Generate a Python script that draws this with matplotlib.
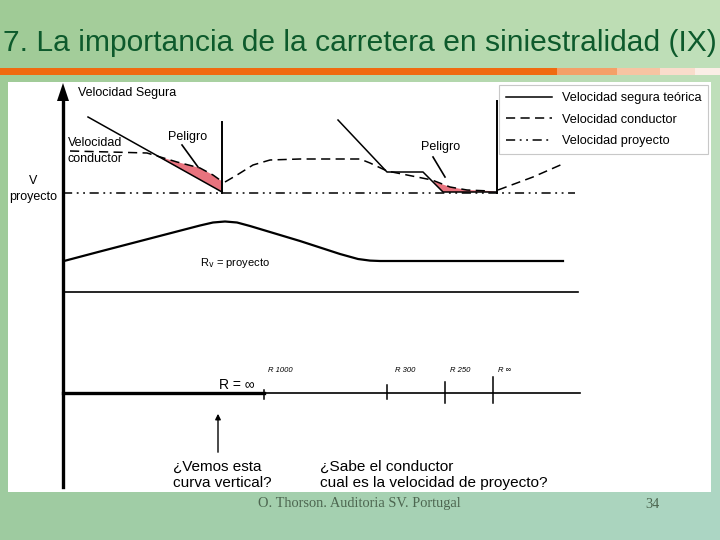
import numpy as np
import matplotlib.pyplot as plt
from matplotlib.patches import Rectangle, Polygon

plt.rcParams['font.family'] = ['Liberation Sans', 'DejaVu Sans']

# slide texts
title = "7. La importancia de la carretera en siniestralidad (IX)"
footer = "O. Thorson. Auditoria SV. Portugal"
page = "34"
legend_labels = ["Velocidad segura teórica", "Velocidad conductor", "Velocidad proyecto"]

# diagram vertices (slide pixels, y grows downward)
# velocidad segura teorica (solid)
safe1_x = [88, 222]
safe1_y = [117, 192]
safe2_x = [338, 387, 423, 443, 497]
safe2_y = [120, 172, 172, 192, 192]
wall_x = [222, 497]          # vertical jumps of safe speed
wall_top = [122, 101]
wall_bot = [193, 193]

# velocidad conductor (dashed)
drv1_x = [70, 110, 147, 157, 177, 200, 213, 220]
drv1_y = [151, 152, 153, 156, 162, 168, 175, 180]
drv2_x = [225, 237, 253, 270, 300, 360, 370, 387, 407, 432, 450, 467, 490]
drv2_y = [182, 175, 165, 160, 159, 159, 163, 171, 175, 180, 187, 190, 191]
drv3_x = [498, 533, 565]
drv3_y = [190, 177, 163]

# velocidad proyecto (dash dot dot)
proj_x = [63, 575]
proj_y = [193, 193]

# danger zones (between driver speed and safe speed)
pel1_x = [157, 177, 200, 213, 220, 222, 222]
pel1_y = [156, 162, 168, 175, 180, 181, 192]
pel2_x = [433, 450, 467, 490, 497, 443]
pel2_y = [181, 187, 190, 191, 192, 192]

# vertical profile (R_v = proyecto)
prof_x = [64, 100, 150, 200, 213, 225, 237, 250, 300, 340, 358, 370, 380, 563]
prof_y = [261, 251.5, 238.5, 225.5, 222.5, 221.5, 222.5, 226, 241, 254, 259, 260.6, 261, 261]
base_x = [63, 578]
base_y = [292, 292]

# plan alignment
plan_thick_x = [63, 264]
plan_thin_x = [264, 580]
plan_y = 393
tick_x = [264, 387, 445, 493]
tick_top = [390, 385, 382, 377]
tick_bot = [399, 399, 403, 403]
radius_labels = ["R 1000", "R 300", "R 250", "R \u221e"]
radius_lx = [268, 395, 450, 498]

fig = plt.figure(figsize=(7.2, 5.4), dpi=100)
ax = fig.add_axes([0, 0, 1, 1])
ax.set_xlim(0, 720)
ax.set_ylim(540, 0)
ax.axis('off')

# green slide background (smooth gradient)
c_tl = np.array([160, 203, 150]) / 255
c_tr = np.array([195, 225, 185]) / 255
c_bl = np.array([158, 203, 160]) / 255
c_br = np.array([172, 214, 196]) / 255
u = np.linspace(0, 1, 72)[None, :, None]
v = np.linspace(0, 1, 54)[:, None, None]
bg = (1 - v) * ((1 - u) * c_tl + u * c_tr) + v * ((1 - u) * c_bl + u * c_br)
ax.imshow(bg, extent=(0, 720, 540, 0), aspect='auto', zorder=0)

# title and orange bar
ax.text(3, 43, title, fontsize=21.6, color='#0d5a2c', va='center', ha='left')
bar_cols = ['#f06a10', '#f4a068', '#f7c4a2', '#f9dccb', '#fbeee6']
bar_edges = [0, 557, 617, 660, 695, 720]
for i, c in enumerate(bar_cols):
    ax.add_patch(Rectangle((bar_edges[i], 68), bar_edges[i + 1] - bar_edges[i], 7,
                           fc=c, ec='none', zorder=1))

# white panel
ax.add_patch(Rectangle((8, 82), 703, 410, fc='white', ec='none', zorder=1))

lw = 1.1
# danger fills
ax.add_patch(Polygon(list(zip(pel1_x, pel1_y)), fc='#e8737e', ec='none', zorder=2))
ax.add_patch(Polygon(list(zip(pel2_x, pel2_y)), fc='#e8737e', ec='none', zorder=2))

# speeds
h_safe, = ax.plot(safe1_x, safe1_y, color='black', lw=lw, zorder=3)
ax.plot(safe2_x, safe2_y, color='black', lw=lw, zorder=3)
for x, t, b in zip(wall_x, wall_top, wall_bot):
    ax.plot([x, x], [t, b], color='black', lw=1.4, zorder=3)
dash = (0, (6, 3.5))
h_drv, = ax.plot(drv1_x, drv1_y, color='black', lw=lw, ls=dash, zorder=3)
ax.plot(drv2_x, drv2_y, color='black', lw=lw, ls=dash, zorder=3)
ax.plot(drv3_x, drv3_y, color='black', lw=lw, ls=dash, zorder=3)
h_proj, = ax.plot(proj_x, proj_y, color='black', lw=lw,
                  ls=(0, (6, 3, 1.2, 3, 1.2, 3)), zorder=3)

# velocity axis
ax.plot([63, 63], [100, 487], color='black', lw=2.4, zorder=3)
ax.add_patch(Polygon([(57, 101), (69, 101), (63, 83)], fc='black', ec='none', zorder=3))

# profile
ax.plot(prof_x, prof_y, color='black', lw=1.6, zorder=3)
ax.plot(base_x, base_y, color='black', lw=1.2, zorder=3)

# plan
ax.plot(plan_thick_x, [plan_y, plan_y], color='black', lw=2.4, zorder=3)
ax.plot(plan_thin_x, [plan_y, plan_y], color='black', lw=1.2, zorder=3)
for x, t, b in zip(tick_x, tick_top, tick_bot):
    ax.plot([x, x], [t, b], color='black', lw=1.1, zorder=3)
for x, s in zip(radius_lx, radius_labels):
    ax.text(x, 371, s, fontsize=5.5, style='italic', va='center', ha='left', zorder=4)

# annotations
fs = 9
ax.text(78, 93, "Velocidad Segura", fontsize=fs, va='center', zorder=4)
ax.text(68, 143, "Velocidad", fontsize=fs, va='center', zorder=4)
ax.text(68, 159, "conductor", fontsize=fs, va='center', zorder=4)
ax.text(168, 137, "Peligro", fontsize=fs, va='center', zorder=4)
ax.plot([182, 198], [145, 167], color='black', lw=1.2, zorder=3)
ax.text(421, 147, "Peligro", fontsize=fs, va='center', zorder=4)
ax.plot([433, 445], [157, 177], color='black', lw=1.2, zorder=3)
ax.text(33, 181, "V", fontsize=fs, va='center', ha='center', zorder=4)
ax.text(33, 197, "proyecto", fontsize=fs, va='center', ha='center', zorder=4)
ax.text(200, 263, r"R$_{\mathrm{v}}$ = proyecto", fontsize=8, va='center', zorder=4)
ax.text(219, 385, "R = \u221e", fontsize=10, va='center', zorder=4)
ax.annotate("", xy=(218, 411), xytext=(218, 455),
            arrowprops=dict(arrowstyle='-|>', color='black', lw=1.0,
                            mutation_scale=8), zorder=4)
ax.text(173, 475, "¿Vemos esta\ncurva vertical?", fontsize=11, va='center',
        linespacing=1.15, zorder=4)
ax.text(320, 475, "¿Sabe el conductor\ncual es la velocidad de proyecto?", fontsize=11.1,
        va='center', linespacing=1.15, zorder=4)

leg = ax.legend([h_safe, h_drv, h_proj], legend_labels, loc='upper left',
                bbox_to_anchor=(499, 85), bbox_transform=ax.transData,
                fontsize=9.2, frameon=True, fancybox=False, edgecolor='#c8c8c8',
                framealpha=1, handlelength=3.6, handletextpad=0.75,
                labelspacing=0.75, borderpad=0.55, borderaxespad=0)
leg.get_frame().set_linewidth(0.8)
leg.set_zorder(5)

# footer
ax.text(258, 504, footer, fontsize=10.4, family='Liberation Serif', color='#4d6650',
        va='center', zorder=4)
ax.text(645, 504, page, fontsize=10.4, family='Liberation Serif', color='#4d6650',
        va='center', zorder=4)

fig.savefig('out.png', dpi=100)
